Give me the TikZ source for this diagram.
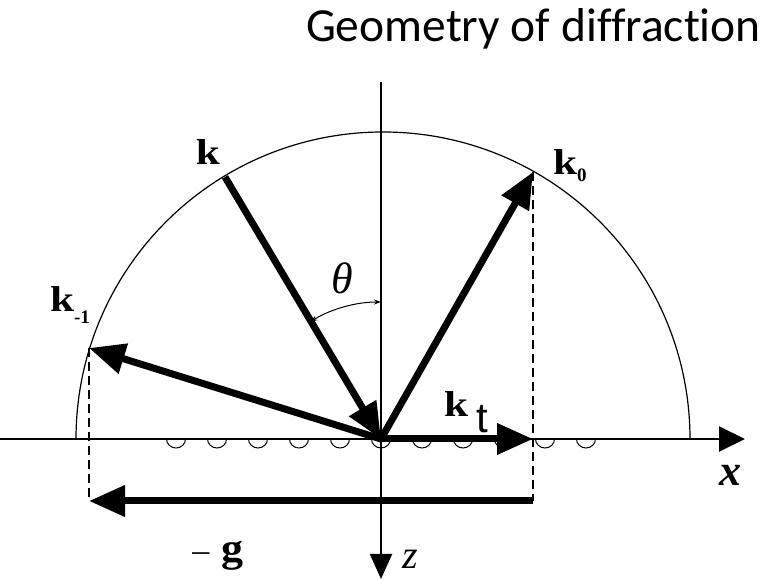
\RequirePackage{fix-cm}
\documentclass[tikz,border=0pt]{standalone}
\usepackage{fontspec}
\newfontfamily\titlefont[Ligatures=NoCommon]{Carlito}
\newfontfamily\lserif{Liberation Serif}
\newfontfamily\lsans{Liberation Sans}
\usetikzlibrary{arrows.meta}
\newcommand{\bsize}{\fontsize{36}{36}\selectfont}
\newcommand{\ssize}{\fontsize{19}{19}\selectfont}
\newcommand{\wk}{\scalebox{1.2}[1]{k}}
\begin{document}
\begin{tikzpicture}[x=1pt,y=1pt,
  vec/.style={line width=7pt,-{Triangle[length=36pt,width=30pt]}},
  axisline/.style={line width=2pt},
  guide/.style={line width=1.5pt,dash pattern=on 9pt off 5pt},
  thinline/.style={line width=1.2pt},
  lbl/.style={inner sep=0pt,outer sep=0pt},
  boldlbl/.style={lbl,font=\lserif\bsize\bfseries}]
\useasboundingbox (0,0) rectangle (780,580);
% key points
\coordinate (O) at (381,141);
\coordinate (Ak) at (225,403);
\coordinate (Ak0) at (533,408);
\coordinate (Akm) at (89,232);
\coordinate (Akt) at (533,141);
\coordinate (Gs) at (533,79);
\coordinate (Ge) at (89,79);
\coordinate (Xs) at (0,141);
\coordinate (Xe) at (745,141);
\coordinate (Zs) at (381,498);
\coordinate (Ze) at (381,1);
% Ewald semicircle
\draw[thinline] (76,141) arc[start angle=180,end angle=0,radius=307];
% surface bumps
\foreach \i in {-5,...,5}
  \draw[line width=1pt] ({381+41*\i-9.5},141) arc[start angle=180,end angle=360,x radius=9.5,y radius=9];
% axes
\draw[axisline,-{Triangle[length=26pt,width=25pt]}] (Xs) -- (Xe);
\draw[axisline,-{Triangle[length=25pt,width=22pt]}] (Zs) -- (Ze);
% projection guides
\draw[guide] (Akm) -- (Akm |- Ge);
\draw[guide] (Ak0) -- (Ak0 |- Gs);
% vectors
\draw[vec] (Ak) -- (O);
\draw[vec] (O) -- (Ak0);
\draw[vec] (O) -- (Akm);
\draw[vec] (O) -- (Akt);
\draw[vec] (Gs) -- (Ge);
% angle theta
\draw[line width=1pt,{Stealth[length=7pt,width=5pt]}-{Stealth[length=7pt,width=5pt]}]
  (381,278) arc[start angle=90,end angle=121,radius=137];
% labels
\node[lbl,anchor=base west,font=\titlefont\fontsize{47.5}{47.5}\selectfont] (title) at (306,538) {Geometry of diffraction};
\node[boldlbl] (lk) at (208,428) {\wk};
\node[boldlbl,anchor=base west] (lk0) at (553,405) {\wk\raisebox{-7pt}{\ssize 0}};
\node[boldlbl,anchor=base west] (lkm) at (50,268) {\wk\raisebox{-12pt}{\ssize -1}};
\node[boldlbl,anchor=base west] (lkt) at (444,163) {\wk\hspace{8pt}\raisebox{-16pt}{\mdseries\lsans\fontsize{42}{42}\selectfont t}};
\node[lbl,font=\lserif\fontsize{34}{34}\selectfont] (lg) at (218,24) {–\hspace{12pt}\textbf{\fontsize{40}{40}\selectfont\scalebox{1.1}[1]{g}}};
\node[lbl,font=\lserif\itshape\fontsize{44}{44}\selectfont] (lth) at (342,302) {θ};
\node[lbl,font=\lserif\bfseries\itshape\fontsize{44}{44}\selectfont] (lx) at (730,105) {x};
\node[lbl,font=\lserif\itshape\fontsize{40}{40}\selectfont] (lz) at (410,21) {z};
\end{tikzpicture}
\end{document}
